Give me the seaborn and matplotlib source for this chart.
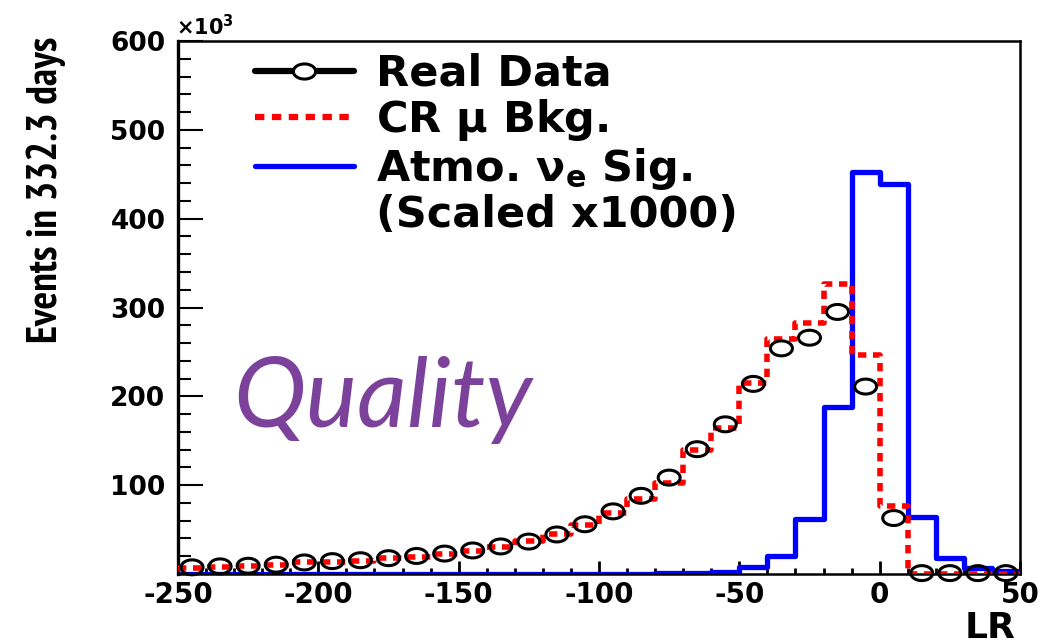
import os
import numpy as np
import pandas as pd
import matplotlib
matplotlib.use("Agg")
import matplotlib.pyplot as plt
from matplotlib.path import Path
from matplotlib.lines import Line2D
from matplotlib.ticker import MultipleLocator
from matplotlib import font_manager
from matplotlib.font_manager import FontProperties
import seaborn as sns

# ---- data (x10^3 events per 10-unit LR bin) ----
bin_width = 10
lr_range = (-250, 50)
bin_centers = [-245, -235, -225, -215, -205, -195, -185, -175, -165, -155,
               -145, -135, -125, -115, -105, -95, -85, -75, -65, -55,
               -45, -35, -25, -15, -5, 5, 15, 25, 35, 45]
real_data = [7.5, 8.6, 9.3, 10.5, 13.0, 14.5, 15.5, 17.8, 20.3, 23.0,
             26.5, 31.0, 36.5, 44.5, 56.0, 70.5, 88.0, 108.5, 140.5, 168.5,
             214.0, 254.0, 266.0, 295.0, 211.0, 63.0, 1.0, 1.0, 1.0, 1.0]
cr_mu_bkg = [7.0, 8.0, 8.5, 10.0, 13.0, 13.0, 15.0, 17.5, 19.5, 22.0,
             26.0, 30.0, 37.5, 45.0, 55.5, 68.5, 84.0, 103.0, 140.0, 164.0,
             215.0, 264.0, 283.0, 327.0, 246.0, 76.0, 0.5, 0.5, 0.5, 0.5]
atmo_nue_sig = [0.1, 0.1, 0.1, 0.1, 0.1, 0.1, 0.1, 0.1, 0.1, 0.1,
                0.1, 0.1, 0.1, 0.2, 0.2, 0.3, 0.4, 0.6, 1.0, 2.5,
                8.2, 20.0, 61.5, 188.0, 452.5, 438.5, 64.5, 18.5, 6.4, 3.4]

x_ticks = [-250, -200, -150, -100, -50, 0, 50]
y_ticks = [100, 200, 300, 400, 500, 600]
legend_labels = ["Real Data", r"CR $\mathrm{\mu}$ Bkg.",
                 r"Atmo. $\mathrm{\nu}_{\mathbf{e}}$ Sig.", "(Scaled x1000)"]

df = pd.DataFrame({"LR": bin_centers, "data": real_data,
                   "bkg": cr_mu_bkg, "sig": atmo_nue_sig})

sns.set_style("white")
plt.rcParams["font.family"] = ["DejaVu Sans"]
plt.rcParams["font.weight"] = "bold"
plt.rcParams["axes.unicode_minus"] = False
for key in ("text.color", "axes.labelcolor", "xtick.color", "ytick.color",
            "axes.edgecolor"):
    plt.rcParams[key] = "black"

# a narrow bold face for the rotated axis title, if one is installed
def find_narrow_bold():
    best = None
    for f in font_manager.fontManager.ttflist:
        base = os.path.basename(f.fname)
        low = base.lower()
        if ("narrow" in low or "condensed" in low) and "bold" in low \
                and "italic" not in low and "extra" not in low \
                and "semi" not in low and "oblique" not in low \
                and "mono" not in low and "serif" not in low:
            rank = 0 if "narrow" in low else 1
            if best is None or rank < best[0]:
                best = (rank, f.fname)
    return best[1] if best else None

narrow_file = find_narrow_bold()
if narrow_file:
    ylabel_font = FontProperties(fname=narrow_file, size=30)
else:
    ylabel_font = FontProperties(family="DejaVu Sans", weight="bold", size=20)

installed = {f.name for f in font_manager.fontManager.ttflist}
script_family = "Lato" if "Lato" in installed else "Open Sans"

W, H = 1044, 644
fig = plt.figure(figsize=(W / 100, H / 100), dpi=100)
fig.patch.set_facecolor("white")
ax = fig.add_axes([178 / W, 1 - 574 / H, 842 / W, 533 / H])

# open ellipse used for the data points
theta = np.linspace(0, 2 * np.pi, 64)
ellipse = Path(np.column_stack([np.cos(theta), 0.68 * np.sin(theta)]), closed=True)
red_dash = (0, (1.5, 1.2))

sns.histplot(data=df, x="LR", weights="sig", binwidth=bin_width, binrange=lr_range,
             element="step", fill=False, color="#0000FF", linewidth=3.8,
             ax=ax, zorder=2)
sns.histplot(data=df, x="LR", weights="bkg", binwidth=bin_width, binrange=lr_range,
             element="step", fill=False, color="#FF0000", linewidth=4.0,
             linestyle=red_dash, ax=ax, zorder=3)
sns.scatterplot(data=df, x="LR", y="data", marker=ellipse, s=250,
                facecolor="none", edgecolor="black", linewidth=2.2,
                ax=ax, zorder=5, clip_on=False)

ax.set_xlim(*lr_range)
ax.set_ylim(0, 600)
ax.set_xticks(x_ticks)
ax.set_xticklabels([str(v) for v in x_ticks])
ax.set_yticks(y_ticks)
ax.set_yticklabels([str(v) for v in y_ticks])
ax.xaxis.set_minor_locator(MultipleLocator(10))
ax.yaxis.set_minor_locator(MultipleLocator(20))
ax.set_xlabel("")
ax.set_ylabel("")

ax.tick_params(axis="x", which="major", direction="in", length=9.5, width=2,
               pad=5, labelsize=20, top=False, bottom=True, colors="black")
ax.tick_params(axis="x", which="minor", direction="in", length=4.5, width=2,
               top=False, bottom=True, colors="black")
ax.tick_params(axis="y", which="major", direction="in", length=18, width=1.5,
               pad=9, labelsize=19, left=True, right=False, colors="black")
ax.tick_params(axis="y", which="minor", direction="in", length=9, width=1.5,
               left=True, right=False, colors="black")
for lbl in ax.get_xticklabels() + ax.get_yticklabels():
    lbl.set_fontweight("bold")

for side, spine in ax.spines.items():
    spine.set_visible(True)
    spine.set_color("black")
    spine.set_linewidth(2.4 if side == "left" else 1.8)

# legend
handles = [
    Line2D([], [], color="black", lw=4.5, marker=ellipse, markersize=16,
           markerfacecolor="white", markeredgecolor="black", markeredgewidth=2.2),
    Line2D([], [], color="#FF0000", lw=4.5, linestyle=red_dash),
    Line2D([], [], color="#0000FF", lw=3.8),
    Line2D([], [], color="none"),
]
leg = ax.legend(handles, legend_labels, loc="upper left",
                bbox_to_anchor=(0.0914, 0.978), frameon=False,
                prop={"weight": "bold", "size": 31},
                handlelength=2.3, handletextpad=0.5, labelspacing=0.06,
                borderpad=0, borderaxespad=0)
for t in leg.get_texts():
    t.set_color("black")

# axis titles and annotations
fig.text(66 / W, 1 - 190 / H, "Events in 332.3 days", rotation=90,
         ha="right", va="center", fontproperties=ylabel_font, color="black")
fig.text(1015 / W, 1 - 638 / H, "LR", ha="right", va="baseline",
         fontsize=26, fontweight="bold", color="black")
fig.text(176 / W, 1 - 35 / H, r"$\times$10$^{\mathbf{3}}$", ha="left",
         va="baseline", fontsize=15, fontweight="bold", color="black")
ax.text(0.0653, 0.2758, "Quality", transform=ax.transAxes, ha="left",
        va="baseline", fontsize=70, fontstyle="italic", fontweight="normal",
        color="#7B419B", family=[script_family, "DejaVu Sans"])

fig.savefig("out.png", dpi=100, facecolor="white")
